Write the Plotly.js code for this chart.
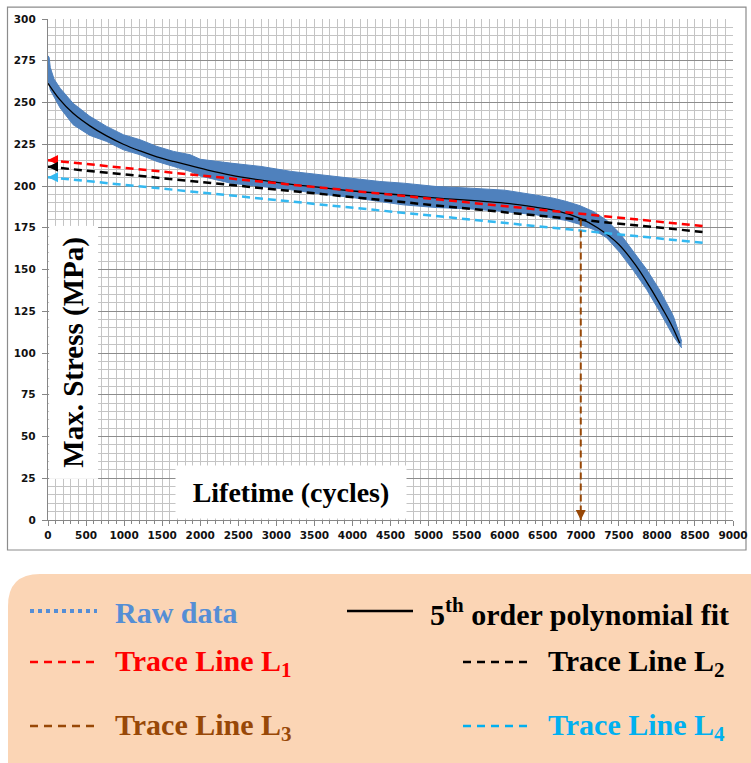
<!DOCTYPE html>
<html>
<head>
<meta charset="utf-8">
<script src="https://cdn.plot.ly/plotly-3.0.1.min.js"></script>
<style>html,body{margin:0;padding:0;background:#fff;}#chart{width:751px;height:763px;}</style>
</head>
<body>
<div id="chart"></div>
<script>
// ---- Data ----
// 5th order polynomial fit (cycles, MPa)
const fitX = [0, 150, 330, 550, 770, 990, 1210, 1430, 1650, 1870, 2100, 2400, 2800, 3200, 3600, 4000, 4400, 4800, 5200, 5600, 6000, 6400, 6700, 7000, 7220, 7500, 7730, 7900, 8080, 8200, 8300];
const fitY = [261.5, 252, 243.5, 236, 230, 225, 221, 217.5, 214.7, 212.2, 209.5, 206.5, 203.5, 201, 199, 197, 195.5, 194, 192.5, 191.2, 189.8, 187.3, 185, 180.5, 175, 165, 152, 140, 126, 116, 106];
// Raw data scatter band (upper / lower envelope of the blue cloud)
const rawX = [0, 15, 30, 80, 160, 330, 550, 770, 990, 1210, 1430, 1650, 1870, 2000, 2400, 2800, 3200, 3600, 4000, 4360, 4670, 5100, 5550, 6000, 6420, 6640, 6815, 6990, 7165, 7340, 7516, 7690, 7866, 8040, 8217, 8326];
const rawUpper = [278, 277, 271, 264, 258.5, 249.5, 241.7, 235.7, 230.7, 227.7, 223.7, 220.7, 218.7, 216, 213.7, 211.7, 208.7, 206.7, 204.3, 202.7, 201.7, 199.7, 198.7, 197.5, 194.5, 192.7, 190.7, 188.2, 184.7, 179.5, 171.5, 161, 150, 137.5, 122, 107];
const rawLower = [262, 261, 257.5, 253, 246.7, 236.7, 230.3, 226.7, 221.7, 218.7, 214.7, 211.7, 208.7, 206, 201.7, 199.7, 197.7, 195.1, 193.1, 190.7, 188.7, 187.1, 186.3, 184.7, 182.7, 180.7, 179.3, 177, 174, 169, 160, 149.5, 138, 124.5, 110, 103];
// Trace lines
const traceX = [0, 8600];
const l1Y = [215.5, 176];
const l2Y = [211.5, 172.5];
const l4Y = [205.3, 166];
const l3X = [7000, 7000];
const l3Y = [180, 0];
// Labels
const xTitle = 'Lifetime (cycles)';
const yTitle = 'Max. Stress (MPa)';
const legendLabels = ['Raw data', '5<sup>th</sup> order polynomial fit', 'Trace Line L<sub>1</sub>', 'Trace Line L<sub>2</sub>', 'Trace Line L<sub>3</sub>', 'Trace Line L<sub>4</sub>'];
const legendColors = ['#558ED5', '#000000', '#FF0000', '#000000', '#984807', '#00B0F0'];

// ---- helpers: pixel -> paper ----
const L = 48, R = 733, T = 19.3, B = 520;
const px = v => (v - L) / (R - L);
const py = v => (B - v) / (B - T);

const serif = 'Liberation Serif';
const traces = [
  {x: rawX, y: rawUpper, mode: 'lines', line: {width: 1, color: '#4F81BD'}, showlegend: false, hoverinfo: 'skip'},
  {x: rawX, y: rawLower, mode: 'lines', line: {width: 1, color: '#4F81BD'}, fill: 'tonexty', fillcolor: '#4F81BD', showlegend: false, hoverinfo: 'skip'},
  {x: fitX, y: fitY, mode: 'lines', line: {width: 1.3, color: '#000', shape: 'spline'}, showlegend: false},
  {x: traceX, y: l1Y, mode: 'lines', line: {width: 2.5, color: '#FF0000', dash: '8px,5px'}, showlegend: false},
  {x: traceX, y: l2Y, mode: 'lines', line: {width: 2.5, color: '#000000', dash: '8px,5px'}, showlegend: false},
  {x: traceX, y: l4Y, mode: 'lines', line: {width: 2.5, color: '#33B8F0', dash: '8px,5px'}, showlegend: false},
  {x: l3X, y: l3Y, mode: 'lines', line: {width: 2, color: '#984807', dash: '7px,4px'}, showlegend: false}
];

const annotations = [];
// arrowheads
[[traceX[0], l1Y[0], '#FF0000'], [traceX[0], l2Y[0], '#000000'], [traceX[0], l4Y[0], '#33B8F0']].forEach(a => {
  annotations.push({x: a[0], y: a[1], xref: 'x', yref: 'y', text: '', showarrow: true, ax: 10, ay: 0, arrowhead: 2, arrowsize: 1, arrowwidth: 2, arrowcolor: a[2], standoff: 0});
});
annotations.push({x: l3X[1], y: l3Y[1], xref: 'x', yref: 'y', text: '', showarrow: true, ax: 0, ay: -10, arrowhead: 2, arrowsize: 1, arrowwidth: 2, arrowcolor: '#984807', standoff: 0});
// axis titles (boxes inside plot)
annotations.push({x: px(73.5), y: py(353), xref: 'paper', yref: 'paper', xanchor: 'center', yanchor: 'middle', text: yTitle, textangle: -90, showarrow: false, bgcolor: '#fff', width: 250, height: 46, font: {family: serif, size: 29, weight: 'bold', color: '#000'}});
annotations.push({x: px(291), y: py(492), xref: 'paper', yref: 'paper', xanchor: 'center', yanchor: 'middle', text: xTitle, showarrow: false, bgcolor: '#fff', width: 228, height: 50, font: {family: serif, size: 28, weight: 'bold', color: '#000'}});

const shapes = [
  {type: 'rect', xref: 'paper', yref: 'paper', x0: px(7.5), x1: px(746), y0: py(7.5), y1: py(550), line: {color: '#8c8c8c', width: 1.2}, layer: 'below'},
  {type: 'path', xref: 'paper', yref: 'paper',
   path: `M ${px(8)} ${py(775)} L ${px(8)} ${py(606)} Q ${px(8)} ${py(574)} ${px(40)} ${py(574)} L ${px(770)} ${py(574)} L ${px(770)} ${py(775)} Z`,
   fillcolor: '#FBD5B5', line: {width: 0}}
];
// legend entries
const legPos = [
  {lx0: 30, lx1: 97, y: 611, tx: 113, dash: 'dot', w: 4},
  {lx0: 347, lx1: 413, y: 611, tx: 428, dash: 'solid', w: 2.5},
  {lx0: 30, lx1: 95, y: 662, tx: 113, dash: '8px,6px', w: 2.5},
  {lx0: 463, lx1: 527, y: 662, tx: 546, dash: '8px,6px', w: 2.5},
  {lx0: 30, lx1: 95, y: 726, tx: 113, dash: '8px,6px', w: 2.5},
  {lx0: 463, lx1: 527, y: 726, tx: 546, dash: '8px,6px', w: 2.5}
];
legPos.forEach((p, i) => {
  shapes.push({type: 'line', xref: 'paper', yref: 'paper', x0: px(p.lx0), x1: px(p.lx1), y0: py(p.y), y1: py(p.y), line: {color: legendColors[i], width: p.w, dash: p.dash}});
  annotations.push({x: px(p.tx), y: py(p.y + 1), xref: 'paper', yref: 'paper', xanchor: 'left', yanchor: 'middle', text: legendLabels[i], showarrow: false, font: {family: serif, size: 30, weight: 'bold', color: legendColors[i]}});
});

const tickFont = {family: 'DejaVu Sans', size: 10.5, weight: 'bold', color: '#111'};
const layout = {
  width: 751, height: 763,
  margin: {l: L, r: 751 - R, t: T, b: 763 - B, pad: 0},
  paper_bgcolor: '#fff', plot_bgcolor: '#fff',
  showlegend: false,
  xaxis: {range: [0, 9000], dtick: 500, tick0: 0, showgrid: true, gridcolor: '#c4c4c4', gridwidth: 1,
    minor: {dtick: 100, showgrid: true, gridcolor: '#c4c4c4', gridwidth: 1, ticks: 'outside', ticklen: 3, tickcolor: '#868686'},
    ticks: 'outside', ticklen: 5, tickcolor: '#868686', showline: true, linecolor: '#868686', linewidth: 1.2,
    zeroline: false, tickfont: tickFont, fixedrange: true},
  yaxis: {range: [0, 300], dtick: 25, tick0: 0, showgrid: true, gridcolor: '#8c8c8c', gridwidth: 1,
    minor: {dtick: 5, showgrid: true, gridcolor: '#c4c4c4', gridwidth: 1},
    ticks: 'outside', ticklen: 5, tickcolor: '#868686', showline: true, linecolor: '#868686', linewidth: 1.2,
    zeroline: false, tickfont: tickFont, ticklabelstandoff: 4, fixedrange: true},
  shapes: shapes,
  annotations: annotations
};
Plotly.newPlot('chart', traces, layout, {displayModeBar: false, staticPlot: true});
</script>
</body>
</html>
